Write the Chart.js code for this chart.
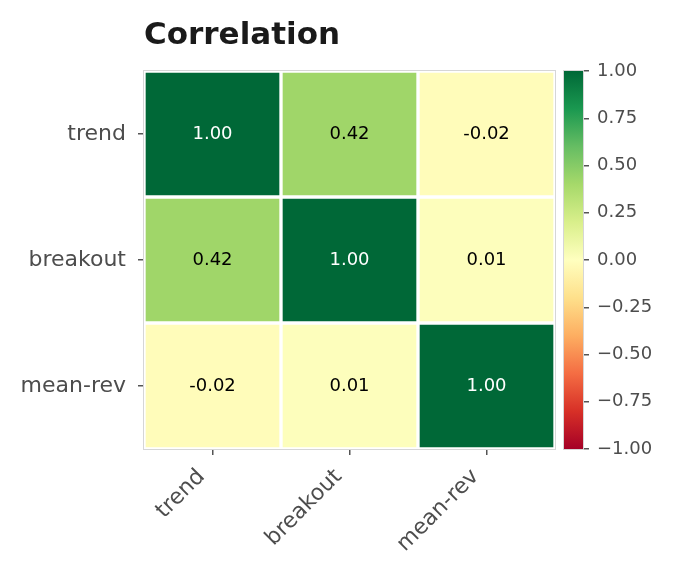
<!DOCTYPE html>
<html>
<head>
<meta charset="utf-8">
<script src="https://cdn.jsdelivr.net/npm/chart.js@4"></script>
<style>
  html, body { margin: 0; padding: 0; background: #fff; }
  #wrap { position: relative; width: 676px; height: 577px; }
  #heat { position: absolute; left: 0; top: 0; }
  #cbar { position: absolute; left: 560px; top: 0; }
</style>
</head>
<body>
<div id="wrap">
  <canvas id="heat" width="560" height="577"></canvas>
  <canvas id="cbar" width="116" height="577"></canvas>
</div>
<script>
// correlation matrix, rows top to bottom
var ROWS = ['trend', 'breakout', 'mean-rev'];
var COLS = ['trend', 'breakout', 'mean-rev'];
var TREND    = [1.00, 0.42, -0.02];
var BREAKOUT = [0.42, 1.00, 0.01];
var MEANREV  = [-0.02, 0.01, 1.00];
var MATRIX = [TREND, BREAKOUT, MEANREV];
var CBAR_TICKS = [-1, -0.75, -0.5, -0.25, 0, 0.25, 0.5, 0.75, 1];

var FONT = 'DejaVu Sans';
var TXT = '#4d4d4d';

// RdYlGn anchor colours
var RDYLGN = ['#a50026','#d73027','#f46d43','#fdae61','#fee08b','#ffffbf',
              '#d9ef8b','#a6d96a','#66bd63','#1a9850','#006837'];

function hexRgb(h) {
  return [parseInt(h.substr(1,2),16), parseInt(h.substr(3,2),16), parseInt(h.substr(5,2),16)];
}

function cmap(v) {
  var t = Math.max(0, Math.min(1, (v + 1) / 2)) * 10;
  var i = Math.min(9, Math.floor(t));
  var f = t - i;
  var a = hexRgb(RDYLGN[i]), b = hexRgb(RDYLGN[i + 1]);
  var c = a.map(function(x, k) { return Math.round(x + (b[k] - x) * f); });
  return 'rgb(' + c.join(',') + ')';
}

function textColor(v) {
  var c = cmap(v).match(/\d+/g).map(Number);
  var lum = (0.299 * c[0] + 0.587 * c[1] + 0.114 * c[2]) / 255;
  return lum < 0.45 ? '#ffffff' : '#000000';
}

var datasets = MATRIX.map(function(row, i) {
  return {
    label: ROWS[i],
    data: row.map(function() { return [i, i + 1]; }),
    backgroundColor: row.map(cmap),
    borderColor: '#ffffff',
    borderWidth: 2,
    borderSkipped: false,
    barPercentage: 1,
    categoryPercentage: 1,
    grouped: false
  };
});

var heatPlugin = {
  id: 'heatExtras',
  afterDatasetsDraw: function(chart) {
    var ctx = chart.ctx, a = chart.chartArea;
    ctx.save();
    // cell annotations
    ctx.font = '18px "' + FONT + '"';
    ctx.textAlign = 'center';
    ctx.textBaseline = 'middle';
    MATRIX.forEach(function(row, i) {
      var meta = chart.getDatasetMeta(i);
      row.forEach(function(v, j) {
        var el = meta.data[j];
        ctx.fillStyle = textColor(v);
        ctx.fillText(v.toFixed(2), el.x, (el.y + el.base) / 2);
      });
    });
    // frame
    ctx.strokeStyle = '#d6d6d6';
    ctx.lineWidth = 1;
    ctx.strokeRect(a.left - 0.5, a.top - 0.5, a.right - a.left + 1, a.bottom - a.top + 1);
    // title
    ctx.font = 'bold 31px "' + FONT + '"';
    ctx.fillStyle = '#1a1a1a';
    ctx.textAlign = 'left';
    ctx.textBaseline = 'alphabetic';
    ctx.fillText('Correlation', a.left, 44);
    ctx.restore();
  }
};

new Chart(document.getElementById('heat'), {
  type: 'bar',
  data: { labels: COLS, datasets: datasets },
  options: {
    responsive: false,
    animation: false,
    devicePixelRatio: 1,
    layout: { padding: { top: 71, right: 5, left: 0, bottom: 0 } },
    plugins: { legend: { display: false }, tooltip: { enabled: false }, title: { display: false } },
    scales: {
      x: {
        offset: true,
        grid: { offset: false, drawOnChartArea: false, drawTicks: true, tickLength: 6, color: '#555', lineWidth: 1.5 },
        border: { display: false },
        ticks: { color: TXT, font: { size: 22, family: FONT }, minRotation: 45, maxRotation: 45, padding: 9, labelOffset: -11 },
        afterFit: function(s) { s.height = 128; }
      },
      y: {
        type: 'linear',
        reverse: true,
        min: 0,
        max: ROWS.length,
        afterBuildTicks: function(s) {
          s.ticks = ROWS.map(function(_, i) { return { value: i + 0.5 }; });
        },
        grid: { drawOnChartArea: false, drawTicks: true, tickLength: 6, color: '#555', lineWidth: 1.5 },
        border: { display: false },
        ticks: {
          color: TXT, font: { size: 22, family: FONT }, padding: 12,
          callback: function(v) { return ROWS[Math.floor(v)]; }
        },
        afterFit: function(s) { s.width = 144; }
      }
    }
  },
  plugins: [heatPlugin]
});

// colour bar
var cbarPlugin = {
  id: 'cbarFrame',
  afterDatasetsDraw: function(chart) {
    var ctx = chart.ctx, a = chart.chartArea;
    ctx.save();
    ctx.strokeStyle = '#d6d6d6';
    ctx.lineWidth = 1;
    ctx.strokeRect(a.left - 0.5, a.top - 0.5, a.right - a.left + 1, a.bottom - a.top + 1);
    ctx.restore();
  }
};

function cbarFill(c) {
  var area = c.chart.chartArea;
  if (!area) return '#ffffbf';
  var g = c.chart.ctx.createLinearGradient(0, area.bottom, 0, area.top);
  RDYLGN.forEach(function(col, i) { g.addColorStop(i / 10, col); });
  return g;
}

new Chart(document.getElementById('cbar'), {
  type: 'bar',
  data: {
    labels: [''],
    datasets: [{
      data: [[CBAR_TICKS[0], CBAR_TICKS[CBAR_TICKS.length - 1]]],
      backgroundColor: cbarFill,
      borderWidth: 0,
      barPercentage: 1,
      categoryPercentage: 1
    }]
  },
  options: {
    responsive: false,
    animation: false,
    devicePixelRatio: 1,
    layout: { padding: { top: 71, bottom: 128, left: 4, right: 0 } },
    plugins: { legend: { display: false }, tooltip: { enabled: false } },
    scales: {
      x: { display: false },
      y: {
        position: 'right',
        min: -1,
        max: 1,
        afterBuildTicks: function(s) {
          s.ticks = CBAR_TICKS.map(function(v) { return { value: v }; });
        },
        grid: { drawOnChartArea: false, drawTicks: true, tickLength: 6, color: '#555', lineWidth: 1.5 },
        border: { display: false },
        ticks: {
          color: TXT, font: { size: 18, family: FONT }, padding: 8,
          callback: function(v) {
            return (v < 0 ? '\u2212' : '') + Math.abs(v).toFixed(2);
          }
        },
        afterFit: function(s) { s.width = 93; }
      }
    }
  },
  plugins: [cbarPlugin]
});
</script>
</body>
</html>
